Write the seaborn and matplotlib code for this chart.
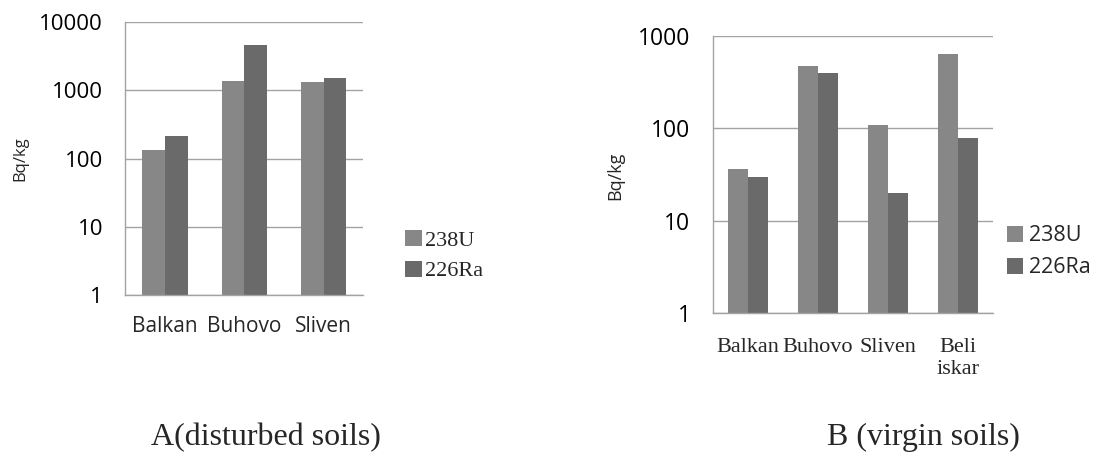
import pandas as pd
import matplotlib
matplotlib.use("Agg")
import matplotlib.pyplot as plt
import seaborn as sns
from matplotlib.ticker import NullLocator, FixedLocator

# ---- data ----
nuclides = ["238U", "226Ra"]

sites_a = ["Balkan", "Buhovo", "Sliven"]
u238_a = [133, 1365, 1320]
ra226_a = [214, 4600, 1510]

sites_b = ["Balkan", "Buhovo", "Sliven", "Beli\niskar"]
u238_b = [36.5, 474, 109, 640]
ra226_b = [29.8, 398, 20, 79]

yticks_a = [1, 10, 100, 1000, 10000]
yticks_b = [1, 10, 100, 1000]

captions = ["A(disturbed soils)", "B (virgin soils)"]

light, dark = "#878787", "#6a6a6a"
line_grey = "#a3a3a3"

sns.set_style("white")
plt.rcParams["font.family"] = ["Open Sans", "DejaVu Sans"]


def long_table(sites, u, ra):
    rows = []
    for s, a, b in zip(sites, u, ra):
        rows.append({"site": s, "nuclide": nuclides[0], "value": a})
        rows.append({"site": s, "nuclide": nuclides[1], "value": b})
    return pd.DataFrame(rows)


df_a = long_table(sites_a, u238_a, ra226_a)
df_b = long_table(sites_b, u238_b, ra226_b)

fig = plt.figure(figsize=(11.07, 4.53), dpi=100)
ax_a = fig.add_axes([0.1132, 0.3494, 0.2150, 0.6013])
ax_b = fig.add_axes([0.6438, 0.3090, 0.2532, 0.6115])


def draw(ax, df, sites, yticks):
    sns.barplot(data=df, x="site", y="value", hue="nuclide", order=sites,
                hue_order=nuclides, palette=[light, dark], width=0.57,
                saturation=1, errorbar=None, linewidth=0, ax=ax)
    ax.set_yscale("log")
    ax.set_ylim(yticks[0], yticks[-1])
    ax.set_xlim(-0.5, len(sites) - 0.5)
    ax.yaxis.set_minor_locator(NullLocator())
    ax.set_yticks(yticks, [str(t) for t in yticks])
    ax.xaxis.set_minor_locator(FixedLocator([i - 0.5 for i in range(len(sites) + 1)]))
    ax.set_axisbelow(True)
    ax.grid(axis="y", color=line_grey, linewidth=1.0)
    for side in ["top", "right"]:
        ax.spines[side].set_visible(False)
    for side in ["left", "bottom"]:
        ax.spines[side].set_color(line_grey)
        ax.spines[side].set_linewidth(1.0)
    ax.tick_params(axis="y", which="major", direction="out", length=6,
                   color=line_grey, width=1.0, labelcolor="black")
    ax.tick_params(axis="x", which="major", length=0)
    ax.tick_params(axis="x", which="minor", direction="out", length=6,
                   color=line_grey, width=1.0)
    ax.set_xlabel("")
    handles, labels = ax.get_legend_handles_labels()
    ax.get_legend().remove()
    return handles, labels


h_a, l_a = draw(ax_a, df_a, sites_a, yticks_a)
h_b, l_b = draw(ax_b, df_b, sites_b, yticks_b)

# ---- left chart text ----
ax_a.tick_params(axis="y", labelsize=16, pad=10)
ax_a.tick_params(axis="x", labelsize=15, pad=15)
ax_a.set_ylabel("Bq/kg", fontsize=12)
ax_a.yaxis.label.set_va("center")
ax_a.yaxis.set_label_coords(20 / 1107, 1 - 159 / 453, transform=fig.transFigure)

# ---- right chart text ----
ax_b.tick_params(axis="y", labelsize=16.5, pad=10)
ax_b.tick_params(axis="x", pad=18)
for lab in ax_b.get_xticklabels():
    lab.set_fontfamily("Liberation Serif")
    lab.set_fontsize(16)
ax_b.set_ylabel("Bq/kg", fontsize=13)
ax_b.yaxis.label.set_va("center")
ax_b.yaxis.set_label_coords(615 / 1107, 1 - 176 / 453, transform=fig.transFigure)

# ---- legends ----
fig.legend(h_a, l_a, loc="center left", bbox_to_anchor=(405 / 1107, 1 - 255.5 / 453),
           frameon=False, borderpad=0, borderaxespad=0, handlelength=0.75,
           handleheight=0.75, handletextpad=0.15, labelspacing=0.45,
           prop={"family": "Liberation Serif", "size": 16})
fig.legend(h_b, l_b, loc="center left", bbox_to_anchor=(1007 / 1107, 1 - 251.75 / 453),
           frameon=False, borderpad=0, borderaxespad=0, handlelength=0.75,
           handleheight=0.75, handletextpad=0.25, labelspacing=0.5,
           prop={"family": "Open Sans", "size": 15.5})

# ---- captions under each panel ----
fig.text(266 / 1107, 1 - 445 / 453, captions[0], ha="center", va="baseline",
         fontfamily="Liberation Serif", fontsize=23)
fig.text(923 / 1107, 1 - 445 / 453, captions[1], ha="center", va="baseline",
         fontfamily="Liberation Serif", fontsize=23)

fig.savefig("out.png", dpi=100)
